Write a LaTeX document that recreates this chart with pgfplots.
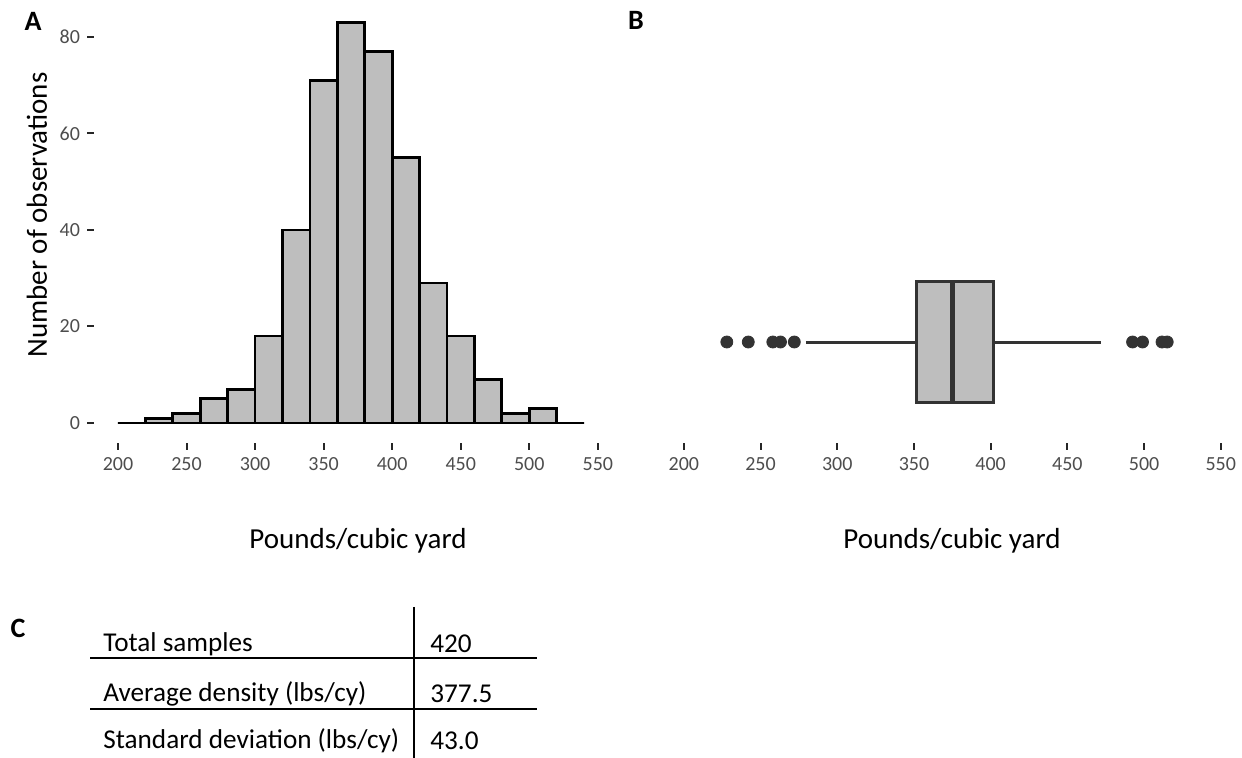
\documentclass[border=0pt]{standalone}
\usepackage{fontspec}
\setmainfont{Carlito}
\usepackage{pgfplots}
\pgfplotsset{compat=1.18}
\definecolor{barfill}{HTML}{BEBEBE}
\definecolor{boxedge}{HTML}{333333}
\definecolor{ticktext}{HTML}{4D4D4D}

\pgfplotsset{
  panel/.style={
    scale only axis,
    clip=false,
    axis x line*=bottom,
    axis y line*=left,
    axis line style={draw=none},
    tick align=outside,
    major tick length=3.5pt,
    tick style={black!85, line width=1pt},
    xmin=182.5, xmax=567.5,
    xtick={200,250,...,550},
    ticklabel style={font=\fontsize{10}{12}\selectfont, text=ticktext},
    /pgf/number format/assume math mode=true,
  },
}

\begin{document}
\begin{tikzpicture}[x=0.5pt,y=0.5pt]
\useasboundingbox (0,0) rectangle (1242,758);

% A: histogram, bins of 20
\begin{axis}[panel,
    at={(47pt,157.5pt)}, anchor=south west,
    width=263.9pt, height=220.3pt,
    ymin=-4.15, ymax=87.15,
    ytick={0,20,...,80},
]
\addplot[ybar interval, fill=barfill, draw=black, line width=1.4pt] coordinates {
  (200,0) (220,1) (240,2) (260,5) (280,7) (300,18) (320,40) (340,71)
  (360,83) (380,77) (400,55) (420,29) (440,18) (460,9) (480,2) (500,3)
  (520,0) (540,0)
};
\end{axis}

% B: boxplot
\begin{axis}[panel,
    at={(328.5pt,157.5pt)}, anchor=south west,
    width=295.3pt, height=220.3pt,
    ymin=-0.631, ymax=2.122,
    ytick=\empty,
]
\addplot[boxedge, line width=1.5pt] coordinates {(279.5,0) (351.5,0)};
\addplot[boxedge, line width=1.5pt] coordinates {(402,0) (472,0)};
\addplot[fill=barfill, draw=boxedge, line width=1.5pt] coordinates {
  (351.5,-0.375) (402,-0.375) (402,0.375) (351.5,0.375) (351.5,-0.375)
} -- cycle;
\addplot[boxedge, line width=2.6pt] coordinates {(375,-0.375) (375,0.375)};
\addplot[only marks, mark=*, mark size=3pt, boxedge] coordinates {
  (228,0) (242,0) (258,0) (263,0) (272,0)
  (492.5,0) (499,0) (511.7,0) (515.1,0)
};
\end{axis}

\begin{scope}[every node/.style={inner sep=0pt}]
\node[font=\fontsize{14.5}{17}\selectfont] at (358,217) {Pounds/cubic yard};
\node[font=\fontsize{14.5}{17}\selectfont] at (952,217) {Pounds/cubic yard};
\node[font=\fontsize{14.5}{17}\selectfont, rotate=90] at (37,543) {Number of observations};

\node[font=\fontsize{14}{17}\bfseries] at (33,737) {A};
\node[font=\fontsize{14}{17}\bfseries] at (636,738) {B};
\node[font=\fontsize{14}{17}\bfseries] at (18,130) {C};

% C: summary table
\draw[line width=0.75pt] (90,100) -- (537,100);
\draw[line width=0.75pt] (90,49) -- (537,49);
\draw[line width=0.75pt] (414,151) -- (414,0);
\begin{scope}[every node/.append style={font=\fontsize{13.6}{16}\selectfont, anchor=west}]
\node at (103,114) {Total samples};
\node at (103,64) {Average density (lbs/cy)};
\node at (103,17) {Standard deviation (lbs/cy)};
\node at (430,114) {420};
\node at (430,64) {377.5};
\node at (430,17) {43.0};
\end{scope}
\end{scope}
\end{tikzpicture}
\end{document}
